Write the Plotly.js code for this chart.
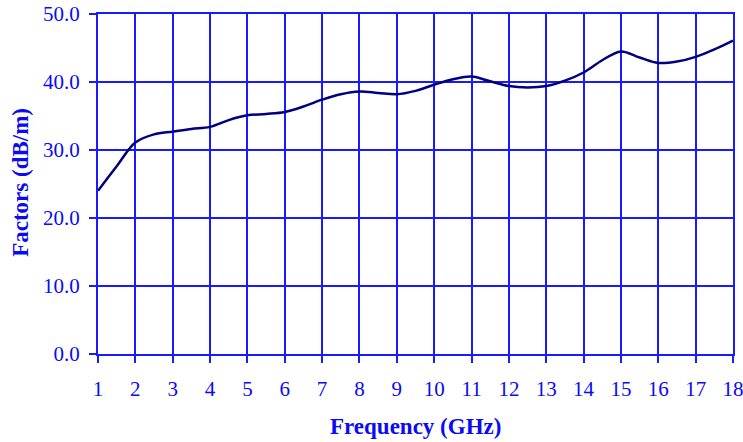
<!DOCTYPE html>
<html>
<head>
<meta charset="utf-8">
<script src="https://cdn.plot.ly/plotly-3.0.1.min.js"></script>
<style>html,body{margin:0;padding:0;background:#fff;}#chart{width:743px;height:442px;}</style>
</head>
<body>
<div id="chart"></div>
<script>
var frequency = [1,1.5,2,2.5,3,3.5,4,4.5,5,5.5,6,6.5,7,7.5,8,8.5,9,9.5,10,10.5,11,11.5,12,12.5,13,13.5,14,14.5,15,15.5,16,16.5,17,17.5,18];
var factors = [24.0,27.6,31.1,32.3,32.7,33.1,33.4,34.4,35.1,35.3,35.6,36.4,37.4,38.2,38.6,38.4,38.2,38.7,39.6,40.4,40.8,40.1,39.4,39.2,39.4,40.2,41.4,43.2,44.5,43.6,42.8,43.0,43.7,44.8,46.1];
var xTickVals = [1,2,3,4,5,6,7,8,9,10,11,12,13,14,15,16,17,18];
var yTickVals = [0,10,20,30,40,50];
var xTitle = 'Frequency (GHz)';
var yTitle = 'Factors (dB/m)';

var gridBlue = '#1A1AFF';
var textBlue = '#0A0AF5';
var font = 'Liberation Serif, Times New Roman, serif';

var trace = {
  x: frequency, y: factors, type: 'scatter', mode: 'lines',
  line: {color: '#000080', width: 2.5, shape: 'spline', smoothing: 1},
  hoverinfo: 'skip'
};

var layout = {
  width: 743, height: 442,
  margin: {l: 98, r: 10, t: 14, b: 88, pad: 0},
  paper_bgcolor: '#fff', plot_bgcolor: '#fff',
  showlegend: false,
  font: {family: font, color: textBlue, size: 21},
  xaxis: {
    range: [1, 18], tickvals: xTickVals, ticktext: xTickVals.map(String),
    ticks: 'outside', ticklen: 7, tickwidth: 2, tickcolor: gridBlue,
    showgrid: true, gridcolor: gridBlue, gridwidth: 2,
    showline: true, linecolor: gridBlue, linewidth: 2, mirror: true,
    zeroline: false, tickfont: {family: font, size: 21, color: textBlue},
    ticklabelstandoff: 8, ticklabeloverflow: 'allow'
  },
  yaxis: {
    range: [0, 50], tickvals: yTickVals, ticktext: yTickVals.map(function(v){return v.toFixed(1);}),
    ticks: 'outside', ticklen: 7, tickwidth: 2, tickcolor: gridBlue,
    showgrid: true, gridcolor: gridBlue, gridwidth: 2,
    showline: true, linecolor: gridBlue, linewidth: 2, mirror: true,
    zeroline: false, tickfont: {family: font, size: 21, color: textBlue},
    ticklabelstandoff: 5, ticklabeloverflow: 'allow'
  },
  annotations: [
    {text: '<b>' + xTitle + '</b>', xref: 'paper', yref: 'paper', x: 0.5, y: -0.214,
     xanchor: 'center', yanchor: 'middle', showarrow: false,
     font: {family: font, size: 23, color: textBlue}},
    {text: '<b>' + yTitle + '</b>', xref: 'paper', yref: 'paper', x: -0.122, y: 0.505,
     xanchor: 'center', yanchor: 'middle', showarrow: false, textangle: -90,
     font: {family: font, size: 23, color: textBlue}}
  ]
};

Plotly.newPlot('chart', [trace], layout, {staticPlot: true, displayModeBar: false});
</script>
</body>
</html>
